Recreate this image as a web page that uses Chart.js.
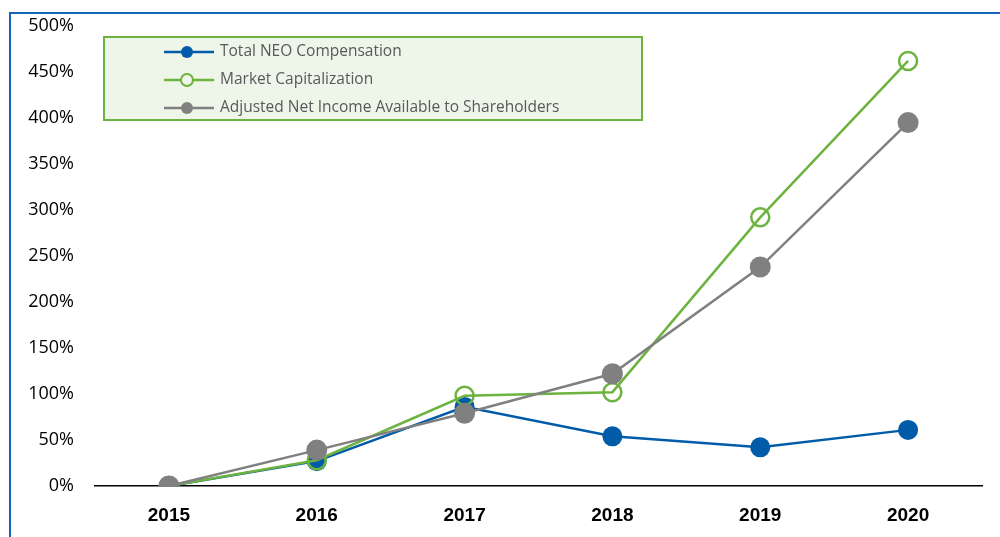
<!DOCTYPE html>
<html>
<head>
<meta charset="utf-8">
<script src="https://cdn.jsdelivr.net/npm/chart.js@4.4.1/dist/chart.umd.min.js"></script>
<style>
  html, body { margin: 0; padding: 0; background: #fff; overflow: hidden; }
  #wrap { position: relative; width: 1000px; height: 537px; }
  #chart { display: block; }
  #frame { position: absolute; left: 9px; top: 12px; width: 1100px; height: 700px;
           border-left: 2px solid #1565b8; border-top: 2px solid #1565b8; }
  #legend { position: absolute; left: 103px; top: 36px; width: 540px; height: 85px;
            background: #eef6ea; border: 2px solid #6db33f; box-sizing: border-box;
            font-family: "Open Sans", sans-serif; font-size: 15.5px; color: #595959; }
  .item { position: absolute; left: 59px; height: 20px; line-height: 20px; white-space: nowrap; }
  .item canvas { vertical-align: middle; margin-right: 2px; }
</style>
</head>
<body>
<div id="wrap">
  <div id="frame"></div>
  <canvas id="chart" width="1000" height="537"></canvas>
  <div id="legend"></div>
</div>
<script>
const years = ['2015', '2016', '2017', '2018', '2019', '2020'];
const neoComp = [0, 27, 86, 54, 42, 61];
const marketCap = [0, 28, 98, 102, 292, 462];
const adjIncome = [0, 39, 79, 122, 238, 395];
const seriesNames = ['Total NEO Compensation', 'Market Capitalization', 'Adjusted Net Income Available to Shareholders'];

const blue = '#005ca9', green = '#6db33f', gray = '#808080';

const datasets = [
  { label: seriesNames[0], data: neoComp, borderColor: blue, backgroundColor: blue,
    pointBackgroundColor: blue, pointBorderColor: blue, pointRadius: 10, pointBorderWidth: 0, order: 2 },
  { label: seriesNames[1], data: marketCap, borderColor: green, backgroundColor: '#fff',
    pointBackgroundColor: 'rgba(255,255,255,0)', pointBorderColor: green, pointRadius: 9, pointBorderWidth: 2.5, order: 1 },
  { label: seriesNames[2], data: adjIncome, borderColor: gray, backgroundColor: gray,
    pointBackgroundColor: gray, pointBorderColor: gray, pointRadius: 10.5, pointBorderWidth: 0, order: 0 }
];

new Chart(document.getElementById('chart'), {
  type: 'line',
  data: { labels: years, datasets: datasets.map(d => Object.assign({ borderWidth: 2.5, tension: 0, fill: false }, d)) },
  options: {
    responsive: false,
    animation: false,
    layout: { padding: { left: 0, right: 18, top: 26, bottom: 0 } },
    plugins: { legend: { display: false }, tooltip: { enabled: false } },
    scales: {
      x: {
        offset: true,
        grid: { display: false, drawTicks: false },
        border: { display: true, color: '#000', width: 1.5 },
        ticks: { padding: 18, color: '#000', font: { family: 'Liberation Sans', size: 19, weight: 'bold' } },
        afterFit: s => { s.height = 51; }
      },
      y: {
        min: 0, max: 500,
        grid: { display: false, drawTicks: false },
        border: { display: false },
        ticks: { stepSize: 50, padding: 21, color: '#000', callback: v => v + '%',
                 font: { family: 'Open Sans', size: 18 } },
        // keep the tick padding from pushing the plot area down
        afterFit: s => { s.width = 95; s.paddingTop = 0; s.paddingBottom = 0; }
      }
    }
  }
});

// legend box built from the same series
const legend = document.getElementById('legend');
datasets.forEach((d, i) => {
  const row = document.createElement('div');
  row.className = 'item';
  row.style.top = (2 + i * 28) + 'px';
  const c = document.createElement('canvas');
  c.width = 54; c.height = 16;
  const g = c.getContext('2d');
  g.strokeStyle = d.borderColor; g.lineWidth = 2.5;
  g.beginPath(); g.moveTo(0, 8); g.lineTo(50, 8); g.stroke();
  g.beginPath(); g.arc(23, 8, 6, 0, Math.PI * 2);
  if (i === 1) { g.fillStyle = '#eef6ea'; g.fill(); g.lineWidth = 2; g.stroke(); }
  else { g.fillStyle = d.borderColor; g.fill(); }
  row.appendChild(c);
  row.appendChild(document.createTextNode(d.label));
  legend.appendChild(row);
});
</script>
</body>
</html>
